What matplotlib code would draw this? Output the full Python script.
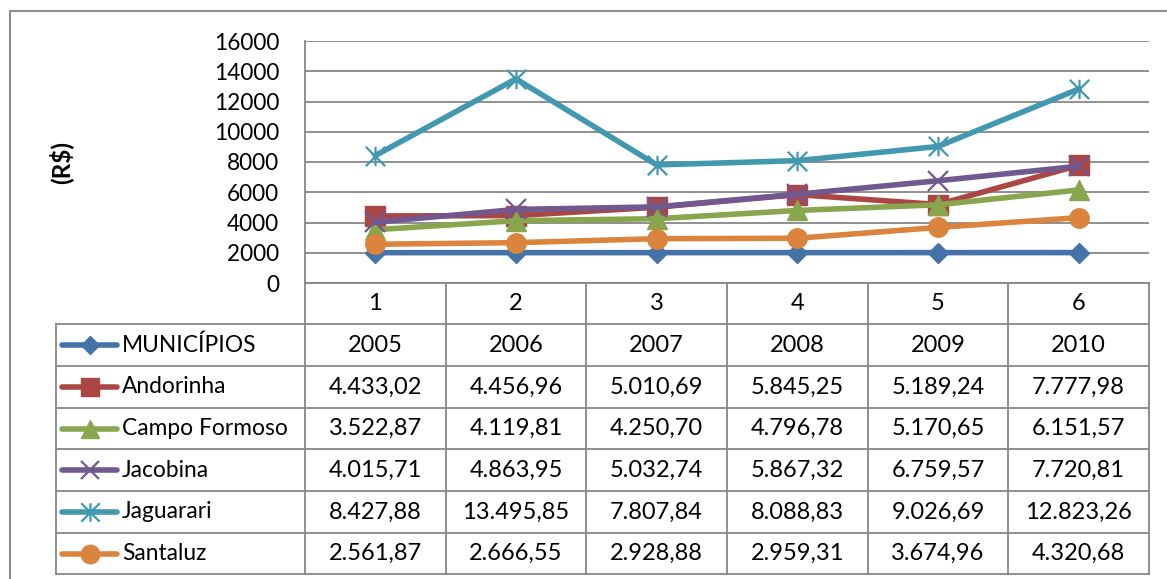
import matplotlib.pyplot as plt
from matplotlib.path import Path
from matplotlib.lines import Line2D

plt.rcParams['font.family'] = ['Lato', 'DejaVu Sans']

# --- data ---
positions = [1, 2, 3, 4, 5, 6]
years = [2005, 2006, 2007, 2008, 2009, 2010]
names = ["MUNICÍPIOS", "Andorinha", "Campo Formoso", "Jacobina", "Jaguarari", "Santaluz"]
andorinha = [4433.02, 4456.96, 5010.69, 5845.25, 5189.24, 7777.98]
campo_formoso = [3522.87, 4119.81, 4250.70, 4796.78, 5170.65, 6151.57]
jacobina = [4015.71, 4863.95, 5032.74, 5867.32, 6759.57, 7720.81]
jaguarari = [8427.88, 13495.85, 7807.84, 8088.83, 9026.69, 12823.26]
santaluz = [2561.87, 2666.55, 2928.88, 2959.31, 3674.96, 4320.68]
yticks = [0, 2000, 4000, 6000, 8000, 10000, 12000, 14000, 16000]

series = [years, andorinha, campo_formoso, jacobina, jaguarari, santaluz]

# asterisk marker: vertical bar plus an X
star = Path([(0, -1), (0, 1), (-1, -1), (1, 1), (-1, 1), (1, -1)],
            [Path.MOVETO, Path.LINETO, Path.MOVETO, Path.LINETO, Path.MOVETO, Path.LINETO])

styles = [
    dict(color="#4572A7", marker="D", ms=10),
    dict(color="#AA4643", marker="s", ms=14),
    dict(color="#89A54E", marker="^", ms=14),
    dict(color="#71588F", marker="x", ms=14, mew=1.6),
    dict(color="#4198AF", marker=star, ms=14, mew=1.6),
    dict(color="#DB843D", marker="o", ms=14),
]


def fmt_br(v):
    if isinstance(v, int):
        return str(v)
    s = f"{v:,.2f}"
    return s.replace(",", "#").replace(".", ",").replace("#", ".")


W, H = 1167, 579
fig = plt.figure(figsize=(W / 100, H / 100), dpi=100)

grid_c = "#878787"
x0, x1, ytop, ybot = 305, 1149, 41, 283
ax = fig.add_axes([x0 / W, 1 - ybot / H, (x1 - x0) / W, (ybot - ytop) / H])
ax.set_xlim(0.5, 6.5)
ax.set_ylim(0, 16000)
ax.set_yticks(yticks)
ax.set_xticks([])
ax.yaxis.grid(True, color=grid_c, lw=1.3)
ax.set_axisbelow(True)
for side in ["top", "right", "bottom"]:
    ax.spines[side].set_visible(False)
ax.spines["left"].set_color(grid_c)
ax.spines["left"].set_linewidth(1.3)
ax.tick_params(axis="y", length=0, pad=18.5, labelsize=16.3)
ax.patch.set_alpha(0)

for vals, st in zip(series, styles):
    ax.plot(positions, vals, lw=4, color=st["color"], marker=st["marker"],
            ms=st["ms"], mew=st.get("mew", 1), mec=st["color"], mfc=st["color"],
            solid_joinstyle="round", clip_on=False, zorder=3)

fig.text(61 / W, 1 - 163 / H, "(R$)", rotation=90, fontsize=17.5, fontweight="bold",
         ha="center", va="center")

# overlay in pixel coordinates for the data table and chart border
ov = fig.add_axes([0, 0, 1, 1])
ov.set_xlim(0, W)
ov.set_ylim(H, 0)
ov.axis("off")
ov.patch.set_alpha(0)

ov.plot([10, 10, W], [H, 11, 11], color="#8c8c8c", lw=1.5)

col_w = (x1 - x0) / 6
leg_l = 55.7
row_tops = [283, 324.3, 366, 407.7, 449.3, 491, 532.7, 574.3]
line_kw = dict(color=grid_c, lw=1.3)

# horizontal rules
ov.plot([x0, x1], [row_tops[0], row_tops[0]], **line_kw)
for yy in row_tops[1:]:
    ov.plot([leg_l, x1], [yy, yy], **line_kw)
# vertical rules
ov.plot([leg_l, leg_l], [row_tops[1], row_tops[-1]], **line_kw)
for i in range(7):
    xx = x0 + i * col_w
    ov.plot([xx, xx], [row_tops[0], row_tops[-1]], **line_kw)

centers = [x0 + (p - 0.5) * col_w for p in positions]

# category number row
ymid = (row_tops[0] + row_tops[1]) / 2
for cx, p in zip(centers, positions):
    ov.text(cx, ymid, str(p), ha="center", va="center", fontsize=17)

# series rows with legend keys
for r, (name, vals, st) in enumerate(zip(names, series, styles)):
    ym = (row_tops[r + 1] + row_tops[r + 2]) / 2
    ov.add_line(Line2D([62, 117], [ym, ym], lw=4, color=st["color"],
                       solid_capstyle="round"))
    ov.add_line(Line2D([89.5], [ym], marker=st["marker"], ms=st["ms"] * 0.95,
                       mew=st.get("mew", 1), color=st["color"], mec=st["color"],
                       mfc=st["color"]))
    ov.text(122, ym, name, ha="left", va="center", fontsize=16.4)
    for cx, v in zip(centers, vals):
        ov.text(cx, ym, fmt_br(v), ha="center", va="center", fontsize=17)

fig.savefig("out.png", dpi=100)
